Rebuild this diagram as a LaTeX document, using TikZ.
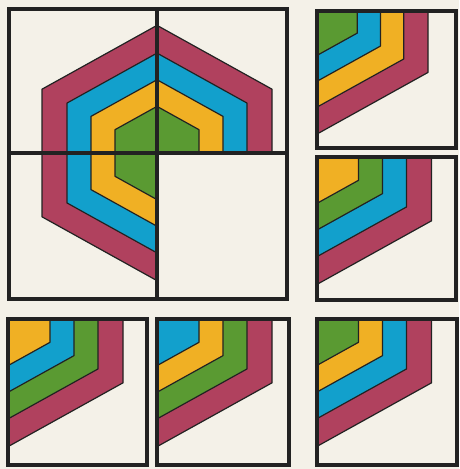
\documentclass[tikz,border=0pt]{standalone}
\usepackage{tikz}
\definecolor{bg}{HTML}{F4F1E8}
\definecolor{cred}{HTML}{B0415E}
\definecolor{cblue}{HTML}{12A0CC}
\definecolor{corange}{HTML}{F0B024}
\definecolor{cgreen}{HTML}{5A9A32}
\definecolor{ink}{HTML}{222222}
\tikzset{
  frame/.style={draw=ink, line width=4pt},
  hexline/.style={draw=ink, line width=1.2pt, line join=round},
}
% lower-right quadrant of a hexagon band, centre at local origin (y points down)
\newcommand{\quadband}[2]{\filldraw[fill=#2,hexline] (0,0) -- (#1,0) -- (#1,{0.555*#1}) -- (0,{1.11*#1}) -- cycle;}
% hexagon without its lower-right quadrant
\newcommand{\hexband}[2]{\filldraw[fill=#2,hexline] (0,{-1.11*#1}) -- (#1,{-0.555*#1}) -- (#1,0) -- (0,0) -- (0,{1.11*#1}) -- (-#1,{0.555*#1}) -- (-#1,{-0.555*#1}) -- cycle;}
% a small square piece: x0,y0,x1,y1, colours inner..outer, scale
\newcommand{\piece}[9]{%
  \begin{scope}
    \clip (#1,#2) rectangle (#3,#4);
    \begin{scope}[shift={(#1,#2)}, scale=#9]
      \quadband{115}{#8}
      \quadband{90}{#7}
      \quadband{66}{#6}
      \quadband{42}{#5}
    \end{scope}
  \end{scope}
  \draw[frame] (#1,#2) rectangle (#3,#4);
}
\begin{document}
\begin{tikzpicture}[x=1pt,y=-1pt]
  \fill[bg] (0,0) rectangle (459,469);
  \useasboundingbox (0,0) rectangle (459,469);
  % big square with the hexagon
  \begin{scope}[shift={(157,153)}]
    \hexband{115}{cred}
    \hexband{90}{cblue}
    \hexband{66}{corange}
    \hexband{42}{cgreen}
  \end{scope}
  \draw[frame] (9,9) rectangle (287,299);
  \draw[frame] (157,9) -- (157,299);
  \draw[frame] (9,153) -- (287,153);
  % small pieces
  \piece{316.5}{10.5}{456}{148}{cgreen}{cblue}{corange}{cred}{0.97}
  \piece{316.5}{157}{456}{300}{corange}{cgreen}{cblue}{cred}{1}
  \piece{8}{319}{147}{465}{corange}{cblue}{cgreen}{cred}{1}
  \piece{157}{319}{289}{465}{cblue}{corange}{cgreen}{cred}{1}
  \piece{316.5}{319}{457}{465}{cgreen}{corange}{cblue}{cred}{1}
\end{tikzpicture}
\end{document}
